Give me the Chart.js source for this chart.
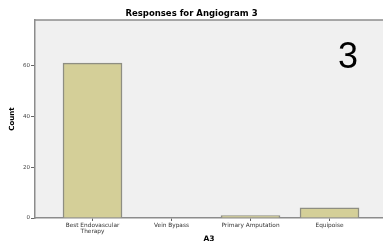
<!DOCTYPE html>
<html>
<head>
<meta charset="utf-8">
<script src="https://cdn.jsdelivr.net/npm/chart.js@4/dist/chart.umd.min.js"></script>
<style>
  html, body { margin: 0; padding: 0; background: #fff; overflow: hidden; }
  #wrap { width: 383px; height: 244px; position: relative; }
</style>
</head>
<body>
<div id="wrap"><canvas id="chart" width="383" height="244"></canvas></div>
<script>
// Data
const categories = [["Best Endovascular", "Therapy"], "Vein Bypass", "Primary Amputation", "Equipoise"];
const counts = [61, 0, 1, 4];
const yTicks = [0, 20, 40, 60];

const plotBackground = {
    id: "plotBackground",
    beforeDraw(chart) {
        const { ctx, chartArea: a } = chart;
        ctx.save();
        ctx.fillStyle = "#f0f0f0";
        ctx.fillRect(a.left, a.top, a.right - a.left, a.bottom - a.top);
        ctx.strokeStyle = "#8c8c8c";
        ctx.lineWidth = 1.5;
        ctx.beginPath();
        ctx.moveTo(a.left, a.top);
        ctx.lineTo(a.right, a.top);
        ctx.stroke();
        ctx.restore();
    }
};

const bigLabel = {
    id: "bigLabel",
    afterDraw(chart) {
        const { ctx } = chart;
        ctx.save();
        ctx.fillStyle = "#000";
        ctx.font = "36px 'Liberation Sans', Arial, sans-serif";
        ctx.textAlign = "center";
        ctx.textBaseline = "alphabetic";
        ctx.fillText("3", 348, 67.5);
        ctx.restore();
    }
};

document.addEventListener("DOMContentLoaded", () => {
    const canvas = document.getElementById("chart");
    new Chart(canvas, {
        type: "bar",
        data: {
            datasets: [{
                data: counts.map((v, i) => ({ x: i, y: v })),
                backgroundColor: "#d4cf98",
                borderColor: "#8e8e82",
                borderWidth: 1.5,
                barThickness: 59
            }]
        },
        options: {
            responsive: false,
            animation: false,
            layout: { padding: { left: 0, right: 0, top: 0, bottom: 0 } },
            plugins: {
                legend: { display: false },
                tooltip: { enabled: false },
                title: {
                    display: true,
                    text: "Responses for Angiogram 3",
                    color: "#000",
                    font: { family: "'DejaVu Sans', sans-serif", size: 8.5, weight: "bold" },
                    padding: { top: 8.5, bottom: 1.3 }
                }
            },
            scales: {
                x: {
                    type: "linear",
                    offset: false,
                    min: -0.728,
                    max: 3.677,
                    afterBuildTicks: s => { s.ticks = categories.map((c, i) => ({ value: i })); },
                    afterFit: s => { s.height = 26; },
                    grid: { display: true, drawOnChartArea: false, drawTicks: true, tickLength: 3, color: "#666", offset: false },
                    border: { display: true, color: "#8c8c8c", width: 1.5 },
                    ticks: {
                        autoSkip: false,
                        maxRotation: 0,
                        padding: 1,
                        color: "#333",
                        font: { family: "'DejaVu Sans', sans-serif", size: 5.8, lineHeight: 1.1 },
                        callback: v => categories[v]
                    },
                    title: {
                        display: true,
                        text: "A3",
                        color: "#000",
                        font: { family: "'DejaVu Sans', sans-serif", size: 7.5, weight: "bold" },
                        padding: { top: 3.5, bottom: 0 }
                    }
                },
                y: {
                    min: 0,
                    max: 78,
                    afterBuildTicks: s => { s.ticks = yTicks.map(v => ({ value: v })); },
                    afterFit: s => { s.width = 35; },
                    grid: { display: true, drawOnChartArea: false, drawTicks: true, tickLength: 4, color: "#666" },
                    border: { display: true, color: "#8c8c8c", width: 1.5 },
                    ticks: {
                        padding: 1,
                        color: "#444",
                        font: { family: "'DejaVu Sans', sans-serif", size: 5.5 }
                    },
                    title: {
                        display: true,
                        text: "Count",
                        color: "#000",
                        font: { family: "'DejaVu Sans', sans-serif", size: 7, weight: "bold" },
                        padding: { top: 8, bottom: 0 }
                    }
                }
            }
        },
        plugins: [plotBackground, bigLabel]
    });
});
</script>
</body>
</html>
